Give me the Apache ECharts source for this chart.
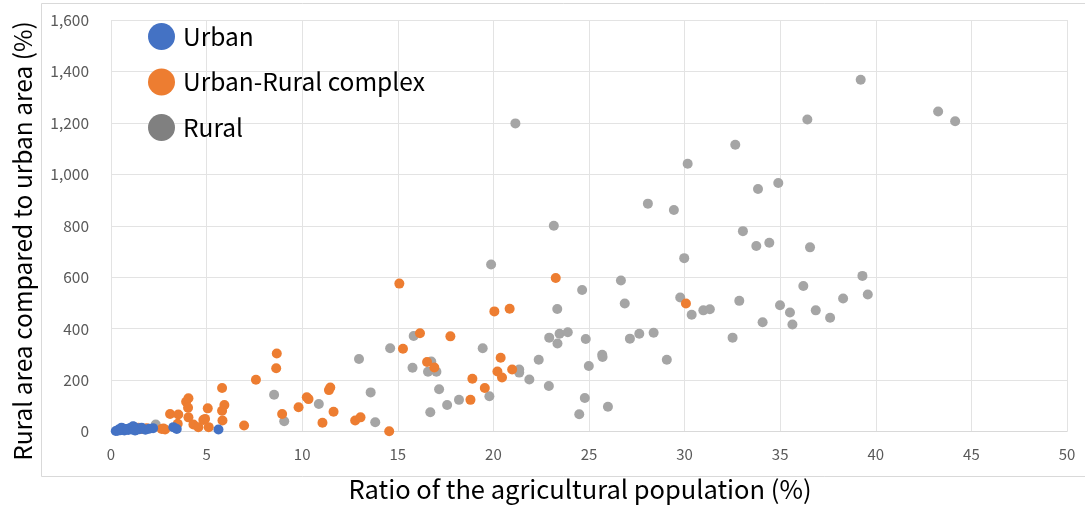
<!DOCTYPE html>
<html>
<head>
<meta charset="utf-8">
<script src="https://cdn.jsdelivr.net/npm/echarts@6/dist/echarts.min.js"></script>
<style>html,body{margin:0;padding:0;background:#fff;}#c{width:1085px;height:508px;}</style>
</head>
<body>
<div id="c"></div>
<script>
const seriesNames = ['Urban', 'Urban-Rural complex', 'Rural'];
const xTitle = 'Ratio of the agricultural population (%)';
const yTitle = 'Rural area compared to urban area (%)';
const xTicks = [0, 5, 10, 15, 20, 25, 30, 35, 40, 45, 50];
const yTicks = [0, 200, 400, 600, 800, 1000, 1200, 1400, 1600];

const urban = [
  [0.25,2],[0.4,8],[0.5,5],[0.6,12],[0.7,4],[0.8,10],[0.9,6],[1.0,14],[1.1,8],[1.2,18],
  [1.3,5],[1.4,12],[1.5,9],[1.6,15],[1.8,7],[2.0,11],[2.2,13],[0.35,3],[0.55,15],[0.85,10],
  [1.15,20],[1.25,4],[3.26,17],[3.44,10],[5.62,8]
];
const complex = [
  [1.43,15],[1.6,10],[1.87,13],[2.65,10],[2.83,8],[2.74,12],
  [3.09,68],[3.52,66],[3.49,30],[3.93,116],[4.05,129],[4.03,92],[4.05,55],[4.31,27],[4.57,17],
  [4.92,49],[4.83,45],[5.06,90],[5.11,17],[5.81,169],[5.93,103],[5.81,81],[5.83,43],[6.96,23],
  [7.58,201],[8.64,246],[8.67,303],[8.95,68],[9.81,94],[10.24,133],[10.33,126],[11.4,161],
  [11.47,171],[11.64,77],[11.06,34],[12.77,43],[13.05,55],[14.55,1],[15.08,575],[15.27,322],
  [16.16,382],[16.53,270],[16.91,249],[17.75,370],[18.8,123],[18.9,205],[19.55,169],[20.05,467],
  [20.85,477],[20.38,287],[20.21,233],[20.45,210],[20.98,241],[23.26,597],[30.07,498]
];
const rural = [
  [2.34,27],[8.53,143],[9.06,40],[10.87,107],[12.97,282],[13.58,152],[13.82,36],[14.6,324],
  [15.77,248],[15.83,371],[16.58,232],[16.75,272],[17.02,232],[16.7,75],[17.16,164],[17.58,103],
  [18.2,123],[19.44,324],[19.79,137],[19.88,649],[21.15,1198],[21.35,241],[21.35,229],[21.88,202],
  [22.37,279],[22.9,177],[22.92,365],[23.16,800],[23.34,476],[23.35,342],[23.46,380],[23.89,386],
  [24.49,67],[24.64,550],[24.78,130],[24.83,360],[24.99,255],[25.69,298],[25.71,290],[25.99,96],
  [26.67,587],[26.87,498],[27.14,361],[27.63,380],[28.08,886],[28.38,384],[29.07,279],[29.44,861],
  [29.77,521],[29.98,674],[30.16,1041],[30.37,454],[30.98,471],[31.32,475],[32.51,365],[32.65,1115],
  [32.86,508],[33.05,779],[33.75,721],[33.84,943],[34.08,425],[34.43,734],[34.9,966],[34.99,491],
  [35.51,463],[35.64,416],[36.21,566],[36.42,1213],[36.56,716],[36.86,471],[37.61,442],[38.29,517],
  [39.21,1368],[39.3,605],[39.58,533],[43.26,1244],[44.15,1206]
];

const colors = ['#4472C4', '#ED7D31', '#A5A5A5'];
const legendColors = ['#4472C4', '#ED7D31', '#808080'];
const font = '"Noto Sans CJK KR", "Noto Sans", sans-serif';

const chart = echarts.init(document.getElementById('c'), null, {renderer: 'canvas'});
chart.setOption({
  animation: false,
  backgroundColor: '#fff',
  graphic: [{
    type: 'rect', silent: true, z: -10,
    shape: {x: 41.5, y: 3.5, width: 1050, height: 473},
    style: {fill: 'none', stroke: '#d9d9d9', lineWidth: 1}
  }, {
    type: 'text', silent: true, x: 23, y: 241, rotation: Math.PI / 2,
    style: {text: yTitle, fontSize: 24.5, fill: '#000', fontFamily: font, align: 'center', verticalAlign: 'middle'}
  }],
  grid: {left: 111, right: 18, top: 20, bottom: 76.5, containLabel: false},
  legend: {
    orient: 'vertical', left: 143, top: 18,
    itemWidth: 27, itemHeight: 27, itemGap: 18.5, icon: 'circle',
    textStyle: {fontSize: 24.5, color: '#000', fontFamily: font, padding: [0, 0, 0, 3]},
    data: seriesNames.map((n, i) => ({name: n, itemStyle: {color: legendColors[i], opacity: 1}}))
  },
  xAxis: {
    type: 'value', min: 0, max: 50, interval: 5,
    name: xTitle, nameLocation: 'middle', nameGap: 45,
    nameTextStyle: {fontSize: 25.5, color: '#000', fontFamily: font, padding: [0, 18, 0, 0]},
    axisLine: {show: true, lineStyle: {color: '#d9d9d9'}},
    axisTick: {show: false},
    axisLabel: {fontSize: 15, color: '#595959', margin: 15, fontFamily: font,
      formatter: v => xTicks.includes(v) ? String(v) : ''},
    splitLine: {show: true, lineStyle: {color: '#e3e3e3'}}
  },
  yAxis: {
    type: 'value', min: 0, max: 1600, interval: 200,
    axisLine: {show: false},
    axisTick: {show: false},
    axisLabel: {fontSize: 15.5, color: '#595959', margin: 22, fontFamily: font,
      formatter: v => yTicks.includes(v) ? v.toLocaleString('en-US') : ''},
    splitLine: {show: true, lineStyle: {color: '#e3e3e3'}}
  },
  series: [
    {name: seriesNames[2], type: 'scatter', data: rural, symbolSize: 10, itemStyle: {color: colors[2], opacity: 1}, z: 2},
    {name: seriesNames[1], type: 'scatter', data: complex, symbolSize: 10, itemStyle: {color: colors[1], opacity: 1}, z: 3},
    {name: seriesNames[0], type: 'scatter', data: urban, symbolSize: 10, itemStyle: {color: colors[0], opacity: 1}, z: 4}
  ]
});
</script>
</body>
</html>
